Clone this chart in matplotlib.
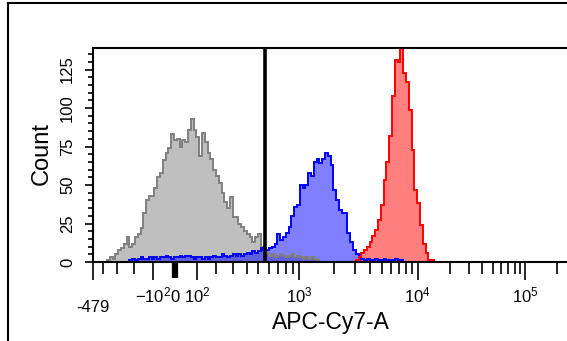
import numpy as np
import matplotlib.pyplot as plt
from matplotlib.lines import Line2D
from matplotlib.ticker import MultipleLocator

plt.rcParams['font.family'] = ['Liberation Sans', 'DejaVu Sans']
plt.rcParams['mathtext.fontset'] = 'custom'
plt.rcParams['mathtext.rm'] = 'Liberation Sans'
plt.rcParams['mathtext.default'] = 'regular'

# histograms on a 1024 channel display, 6 channels per bin
BIN_W = 6
gray_start = 5
gray_counts = [1, 3, 2, 5, 8, 9, 12, 16, 10, 12, 16, 18, 22, 32, 40, 43, 43, 48, 55, 58,
               66, 71, 74, 83, 79, 80, 75, 79, 78, 86, 93, 86, 81, 69, 84, 78, 71, 67, 60, 56,
               51, 45, 39, 35, 42, 29, 29, 25, 23, 20, 18, 16, 13, 16, 18, 10, 8, 6,
               4, 5, 3, 4, 5, 4, 3, 4, 5, 3, 4, 3, 2, 3, 2, 3, 2, 1]
blue_start = 13
blue_counts = [1, 2, 1, 2, 3, 2, 2, 3, 2, 3, 2, 3, 3, 4, 3, 2, 3, 3, 4, 3,
               4, 4, 3, 2, 3, 3, 2, 3, 2, 3, 4, 3, 3, 5, 4, 3, 4, 5, 4, 5,
               4, 5, 6, 5, 7, 6, 7, 9,
               8, 8, 9, 10, 12, 18, 14, 16, 19, 23, 30, 36, 37, 50, 48, 50, 58, 56, 65, 67,
               64, 67, 71, 69, 63, 47, 40, 34, 32, 32, 19, 13, 8, 5, 3, 2,
               1, 2, 1, 1, 2, 1, 1, 2, 1, 1, 1, 2, 1, 1]
red_start = 94
red_counts = [1, 3, 6, 8, 10, 13, 17, 21, 27, 37, 53, 65, 82, 108, 131, 130, 139, 123,
              117, 99, 73, 47, 38, 24, 12, 6, 1, 1]
gate_value = 565

# logicle-like axis calibration: value -> display channel
cal_values = [-479, -100, 0, 100, 1e3, 1e4, 1e5, 262144]
cal_channels = [0, 128.8, 176.0, 223.3, 442.9, 697.0, 927.4, 1024]


def to_chan(v):
    v = np.asarray(v, dtype=float)
    return np.interp(np.arcsinh(v / 300), np.arcsinh(np.array(cal_values) / 300), cal_channels)


major_vals = [-479, -100, 0, 100, 1e3, 1e4, 1e5]
major_labels = ['', '$-10^2$', '0', '$10^2$', '$10^3$', '$10^4$', '$10^5$']
minor_vals = ([-400, -300, -200] + [k * 100 for k in range(2, 10)]
              + [k * 1000 for k in range(2, 10)] + [k * 10000 for k in range(2, 10)] + [200000])

fig = plt.figure(figsize=(5.67, 3.41), dpi=100)
ax = fig.add_axes([93 / 567, 79 / 341, 477 / 567, 214 / 341])

series = [(gray_start, gray_counts, '#808080'),
          (blue_start, blue_counts, '#0000ff'),
          (red_start, red_counts, '#ff0000')]
for start, counts, col in series:
    edges = (start + np.arange(len(counts) + 1)) * BIN_W
    ax.stairs(counts, edges, fill=True, color=col, alpha=0.5, lw=0)
for start, counts, col in series:
    edges = (start + np.arange(len(counts) + 1)) * BIN_W
    ax.stairs(counts, edges, color=col, lw=1.4)

ax.axvline(to_chan(gate_value), color='black', lw=2.6)

ax.set_xlim(0, 1024)
ax.set_ylim(0, 139)

ax.set_xticks(to_chan(major_vals))
ax.set_xticklabels(major_labels)
ax.set_xticks(to_chan(minor_vals), minor=True)
ax.tick_params(axis='x', which='major', length=13, width=1.2, labelsize=12, pad=16)
ax.tick_params(axis='x', which='minor', length=8.5, width=1.2)
for lab in ax.get_xticklabels():
    lab.set_verticalalignment('baseline')
# thick zero tick
zt = ax.xaxis.get_major_ticks()[2]
zt.tick1line.set_markeredgewidth(4.5)
zt.tick1line.set_markersize(11.5)

ax.set_yticks(range(0, 126, 25))
ax.yaxis.set_minor_locator(MultipleLocator(5))
ax.tick_params(axis='y', which='major', length=6, width=1.2, labelsize=12, pad=7)
ax.tick_params(axis='y', which='minor', length=3.6, width=1.2)
plt.setp(ax.get_yticklabels(), rotation=90, va='center')

for s in ['top', 'left', 'bottom']:
    ax.spines[s].set_linewidth(1.5)
ax.spines['right'].set_visible(False)

ax.text(to_chan(-479), -0.234, '-479', transform=ax.get_xaxis_transform(),
        ha='center', va='baseline', fontsize=12)

fig.text(331 / 567, (341 - 329) / 341, 'APC-Cy7-A', ha='center', va='baseline', fontsize=16.5)
fig.text(42 / 567, 1 - 153.5 / 341, 'Count', rotation=90, ha='center', va='center', fontsize=17)

# outer panel frame
fig.add_artist(Line2D([8 / 567, 8 / 567], [0, 1 - 3 / 341], transform=fig.transFigure,
                      color='black', lw=1.5))
fig.add_artist(Line2D([8 / 567, 1], [1 - 3 / 341, 1 - 3 / 341], transform=fig.transFigure,
                      color='black', lw=1.5))

fig.savefig('out.png', dpi=100)
